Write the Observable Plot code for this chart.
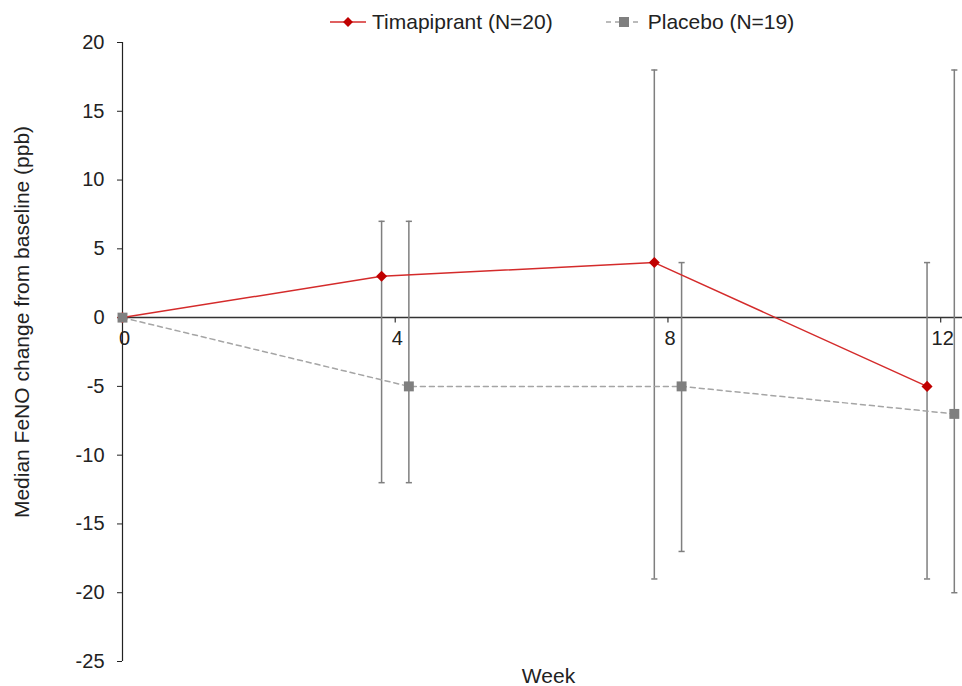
<!DOCTYPE html>
<html>
<head>
<meta charset="utf-8">
<script src="https://cdn.jsdelivr.net/npm/d3@7"></script>
<script src="https://cdn.jsdelivr.net/npm/@observablehq/plot@0.6"></script>
<style>
  body { margin: 0; background: #fff; font-family: "Liberation Sans", Arial, sans-serif; }
  #wrap { position: relative; width: 962px; height: 686px; }
  #legend { position: absolute; top: 10px; left: 328px; display: flex; align-items: center; font-size: 21px; color: #222; line-height: 24px; }
  #legend .item { display: flex; align-items: center; }
  #legend svg { display: block; }
</style>
</head>
<body>
<div id="wrap">
  <div id="chart"></div>
  <div id="legend"></div>
</div>
<script>
// ---- data ----
const weeks = [0, 4, 8, 12];
const seriesNames = ["Timapiprant (N=20)", "Placebo (N=19)"];
const timMedian = [0, 3, 4, -5];
const timLow = [null, -12, -19, -19];
const timHigh = [null, 7, 18, 4];
const plaMedian = [0, -5, -5, -7];
const plaLow = [null, -12, -17, -20];
const plaHigh = [null, 7, 4, 18];
const yTicks = [20, 15, 10, 5, 0, -5, -10, -15, -20, -25];
const xTickLabels = ["0", "4", "8", "12"];
const yLabel = "Median FeNO change from baseline (ppb)";
const xLabel = "Week";

// horizontal dodge of the two groups (weeks), none at baseline
const dodge = 0.2;
const RED = "#c00000", RED_LINE = "#d42b2b", GREY = "#7f7f7f", GREY_LINE = "#a5a5a5";

const tim = weeks.map((w, i) => ({w, x: w === 0 ? 0 : w - dodge, y: timMedian[i], lo: timLow[i], hi: timHigh[i]}));
const pla = weeks.map((w, i) => ({w, x: w === 0 ? 0 : w + dodge, y: plaMedian[i], lo: plaLow[i], hi: plaHigh[i]}));
const bars = [...tim, ...pla].filter(d => d.lo != null);
const caps = bars.flatMap(d => [{x: d.x, v: d.lo}, {x: d.x, v: d.hi}]);
const capHalf = 0.045;

const chart = Plot.plot({
  width: 962,
  height: 686,
  marginLeft: 122,
  marginRight: 0,
  marginTop: 42,
  marginBottom: 25,
  style: {fontFamily: "Liberation Sans, Arial, sans-serif", color: "#222", background: "white"},
  x: {domain: [0, 12.32], axis: null},
  y: {domain: [-25, 20], axis: null},
  marks: [
    // y axis
    Plot.axisY({ticks: yTicks, tickSize: 5, tickPadding: 13, fontSize: 20, stroke: "#222", label: null,
      tickFormat: d => String(d)}),
    Plot.ruleX([0], {y1: -25, y2: 20, stroke: "#222", strokeWidth: 1.2}),
    Plot.text([yLabel], {frameAnchor: "left", dx: -100, dy: -30, rotate: -90, textAnchor: "middle", fontSize: 21, fill: "#222"}),
    // x axis at zero
    Plot.ruleY([0], {stroke: "#333", strokeWidth: 1.5}),
    Plot.ruleX(weeks.slice(1), {x: d => d, y1: 0, y2: -0.4, stroke: "#333", strokeWidth: 1.2}),
    Plot.text(weeks, {x: d => d, y: 0, text: (d, i) => xTickLabels[i], dy: 13, dx: 2, lineAnchor: "top", fontSize: 20, fill: "#222"}),
    Plot.text([xLabel], {frameAnchor: "bottom", dx: 6, dy: 21, fontSize: 21, fill: "#222"}),
    // error bars
    Plot.ruleX(bars, {x: "x", y1: "lo", y2: "hi", stroke: GREY, strokeWidth: 1.5}),
    Plot.link(caps, {x1: d => d.x - capHalf, x2: d => d.x + capHalf, y1: "v", y2: "v", stroke: GREY, strokeWidth: 1.5}),
    // lines
    Plot.line(pla, {x: "x", y: "y", stroke: GREY_LINE, strokeWidth: 1.5, strokeDasharray: "5,4"}),
    Plot.line(tim, {x: "x", y: "y", stroke: RED_LINE, strokeWidth: 1.5}),
    // markers
    Plot.dot(tim, {x: "x", y: "y", symbol: "square", r: 4.4, rotate: 45, fill: RED, stroke: "none"}),
    Plot.dot(pla, {x: "x", y: "y", symbol: "square", r: 5.6, fill: GREY, stroke: "none"})
  ]
});
document.getElementById("chart").appendChild(chart);

// legend
const legend = document.getElementById("legend");
legend.innerHTML = `
  <div class="item">
    <svg width="40" height="20"><line x1="2" x2="38" y1="10" y2="10" stroke="${RED_LINE}" stroke-width="1.5"/>
    <rect x="16.5" y="6.5" width="7" height="7" fill="${RED}" transform="rotate(45 20 10)"/></svg>
    <span style="margin-left:4px">${seriesNames[0]}</span>
  </div>
  <div class="item" style="margin-left:51px">
    <svg width="40" height="20"><line x1="2" x2="38" y1="10" y2="10" stroke="${GREY_LINE}" stroke-width="1.5" stroke-dasharray="5,4"/>
    <rect x="15" y="5" width="10" height="10" fill="${GREY}"/></svg>
    <span style="margin-left:4px">${seriesNames[1]}</span>
  </div>`;
</script>
</body>
</html>
